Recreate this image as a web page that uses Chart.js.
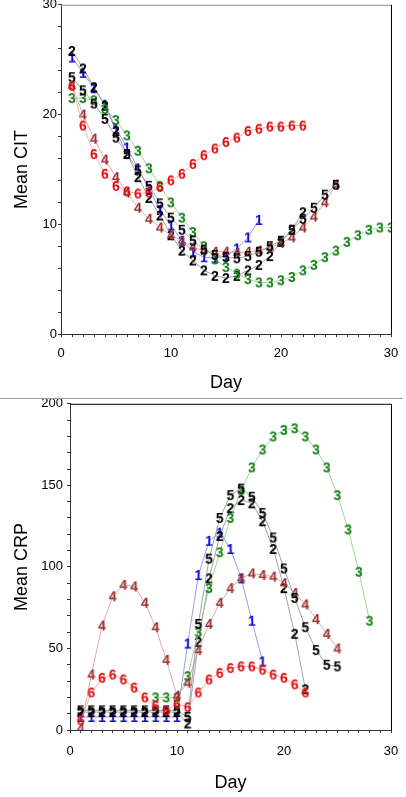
<!DOCTYPE html>
<html>
<head>
<meta charset="utf-8">
<script src="https://cdn.jsdelivr.net/npm/chart.js@4.4.1/dist/chart.umd.min.js"></script>
<style>
  body { margin: 0; background: #fff; }
  canvas { display: block; }
  .sep { height: 1px; width: 403px; background: #9a9a9a; }
</style>
</head>
<body>
<canvas id="citChart" width="406" height="398"></canvas>
<div class="sep"></div>
<canvas id="crpChart" width="406" height="398"></canvas>
<script>
// Day numbers (x values), series start on day 1
const days = [1, 2, 3, 4, 5, 6, 7, 8, 9, 10, 11, 12, 13, 14, 15, 16, 17, 18, 19, 20, 21, 22, 23, 24, 25, 26, 27, 28, 29, 30];

// Mean CIT per group
const cit1 = [25.2, 23.8, 22.4, 20.9, 18.7, 17.0, 15.1, 13.2, 11.3, 9.9, 8.5, 7.5, 7.0, 6.9, 7.1, 7.8, 8.8, 10.4];
const cit2 = [25.8, 24.2, 22.5, 20.8, 18.5, 16.4, 14.3, 12.4, 10.8, 9.0, 7.6, 6.7, 5.8, 5.3, 5.1, 5.3, 5.8, 6.3, 7.1, 8.4, 9.5, 11.1];
const cit3 = [21.5, 21.5, 21.3, 20.5, 19.5, 18.1, 16.7, 15.1, 13.5, 12.0, 10.6, 9.3, 8.0, 6.8, 6.1, 5.5, 5.0, 4.7, 4.7, 4.9, 5.2, 5.8, 6.3, 7.0, 7.6, 8.4, 9.0, 9.5, 9.7, 9.7];
const cit4 = [22.6, 20.0, 17.8, 15.9, 14.3, 12.9, 11.5, 10.5, 9.7, 9.0, 8.5, 7.9, 7.6, 7.5, 7.5, 7.4, 7.5, 7.6, 7.9, 8.3, 8.8, 9.7, 10.7, 12.0, 13.6];
const cit5 = [23.4, 22.2, 21.0, 19.6, 17.9, 16.4, 14.9, 13.5, 11.9, 10.6, 9.5, 8.5, 7.7, 7.2, 7.0, 6.9, 7.1, 7.5, 8.0, 8.5, 9.5, 10.5, 11.5, 12.7, 13.6];
const cit6 = [22.6, 19.0, 16.4, 14.6, 13.5, 13.0, 12.8, 12.9, 13.4, 14.0, 14.6, 15.5, 16.3, 16.9, 17.5, 17.9, 18.5, 18.7, 18.9, 18.9, 19.0, 19.0];

// Mean CRP per group (null = no value that day)
const crp1 = [8, 8, 8, 8, 8, 8, 8, 8, 8, 8, 53, 95, 116, 121, 111, 93, 67, 42];
const crp2 = [11, 11, 11, 11, 11, 11, 11, 11, 11, 11, 4, 54, 93, 119, 136, 141, 139, 128, 111, 87, 59, 25];
const crp3 = [null, null, null, null, null, null, null, 20, 20, 20, 33, 60, 87, 109, 130, 147, 161, 172, 180, 184, 185, 180, 172, 161, 144, 123, 97, 67];
const crp4 = [1, 34, 64, 82, 89, 88, 78, 63, 43, 21, 29, 49, 65, 78, 87, 93, 96, 95, 94, 90, 84, 77, 68, 59, 50];
const crp5 = [12, 12, 12, 12, 12, 12, 12, 12, 12, 12, 8, 65, 105, 130, 144, 148, 143, 133, 118, 99, 81, 63, 49, 40, 39];
const crp6 = [6, 23, 32, 34, 31, 26, 20, 15, 12, 16, 14, 23, 31, 35, 38, 39, 39, 37, 34, 32, 28, 23];

// group labels and colours
const groups = ['1', '2', '3', '4', '5', '6'];
const glyphColors = ['#0c0cd8', '#000000', '#168216', '#9c3030', '#000000', '#e01010'];
const lineColors = ['#8080f0', '#8c8c8c', '#8cc88c', '#cc9a9a', '#8c8c8c', '#f4a0a0'];

const FONT = "'Liberation Sans', Arial, sans-serif";

// each point is drawn as its group number
function makeGlyph(text, color) {
  const c = document.createElement('canvas');
  c.width = 14;
  c.height = 18;
  const g = c.getContext('2d');
  g.font = 'bold 14px ' + FONT;
  g.fillStyle = color;
  g.textAlign = 'center';
  g.textBaseline = 'alphabetic';
  g.fillText(text, 7, 14);
  return c;
}
const glyphs = groups.map((t, i) => makeGlyph(t, glyphColors[i]));

function buildDatasets(seriesList) {
  return seriesList.map((vals, i) => ({
    label: groups[i],
    data: vals.map((v, j) => v == null ? null : { x: days[j], y: v }).filter(p => p),
    borderColor: lineColors[i],
    borderWidth: 0.8,
    pointStyle: glyphs[i],
    order: 6 - i
  }));
}

// top and right border of the plot area
const framePlugin = {
  id: 'frame',
  afterDraw(chart, args, opts) {
    const { ctx, chartArea: a } = chart;
    ctx.save();
    ctx.lineWidth = 1;
    ctx.strokeStyle = opts.topColor;
    ctx.beginPath();
    ctx.moveTo(a.left, a.top + 0.5);
    ctx.lineTo(a.right, a.top + 0.5);
    ctx.stroke();
    ctx.strokeStyle = '#000';
    ctx.beginPath();
    ctx.moveTo(a.right + 0.5, a.top);
    ctx.lineTo(a.right + 0.5, a.bottom);
    ctx.stroke();
    ctx.restore();
  }
};

function makeChart(id, datasets, yTitle, yMax, yStep, yMajor, cfg) {
  const ctx = document.getElementById(id).getContext('2d');
  return new Chart(ctx, {
    type: 'line',
    data: { datasets: datasets },
    plugins: [framePlugin],
    options: {
      responsive: false,
      animation: false,
      events: [],
      layout: { padding: { top: 4, right: cfg.right, left: 0, bottom: 0 } },
      plugins: {
        legend: { display: false },
        tooltip: { enabled: false },
        frame: { topColor: cfg.topColor }
      },
      scales: {
        x: {
          type: 'linear',
          min: 0,
          max: 30,
          afterFit(s) { s.height = cfg.xHeight; s.paddingLeft = 0; s.paddingRight = 0; },
          grid: { drawOnChartArea: false, tickLength: 3, color: '#333' },
          border: { color: '#333' },
          ticks: {
            stepSize: 1,
            autoSkip: false,
            maxRotation: 0,
            padding: cfg.xPad,
            color: '#000',
            font: { family: FONT, size: 13 },
            callback: v => v % 10 === 0 ? v : ''
          },
          title: {
            display: true,
            text: 'Day',
            color: '#000',
            font: { family: FONT, size: 18 },
            padding: { top: 0, bottom: cfg.titlePad }
          }
        },
        y: {
          min: 0,
          max: yMax,
          afterFit(s) { s.width = cfg.yWidth; s.paddingTop = 0; s.paddingBottom = 0; },
          grid: { drawOnChartArea: false, tickLength: 3, color: '#333' },
          border: { color: '#333' },
          ticks: {
            stepSize: yStep,
            autoSkip: false,
            padding: cfg.yPad,
            color: '#000',
            font: { family: FONT, size: 13 },
            callback: v => v % yMajor === 0 ? v : ''
          },
          title: {
            display: true,
            text: yTitle,
            color: '#000',
            font: { family: FONT, size: 18 },
            padding: { top: 11, bottom: 0 }
          }
        }
      }
    }
  });
}

makeChart('citChart', buildDatasets([cit1, cit2, cit3, cit4, cit5, cit6]), 'Mean CIT', 30, 2, 10,
  { right: 15, xHeight: 64, yWidth: 61, xPad: 9, yPad: 1, titlePad: 4, topColor: '#8c8c8c' });

makeChart('crpChart', buildDatasets([crp1, crp2, crp3, crp4, crp5, crp6]), 'Mean CRP', 200, 10, 50,
  { right: 15, xHeight: 67, yWidth: 70, xPad: 11, yPad: 4, titlePad: 3, topColor: '#000' });
</script>
</body>
</html>
